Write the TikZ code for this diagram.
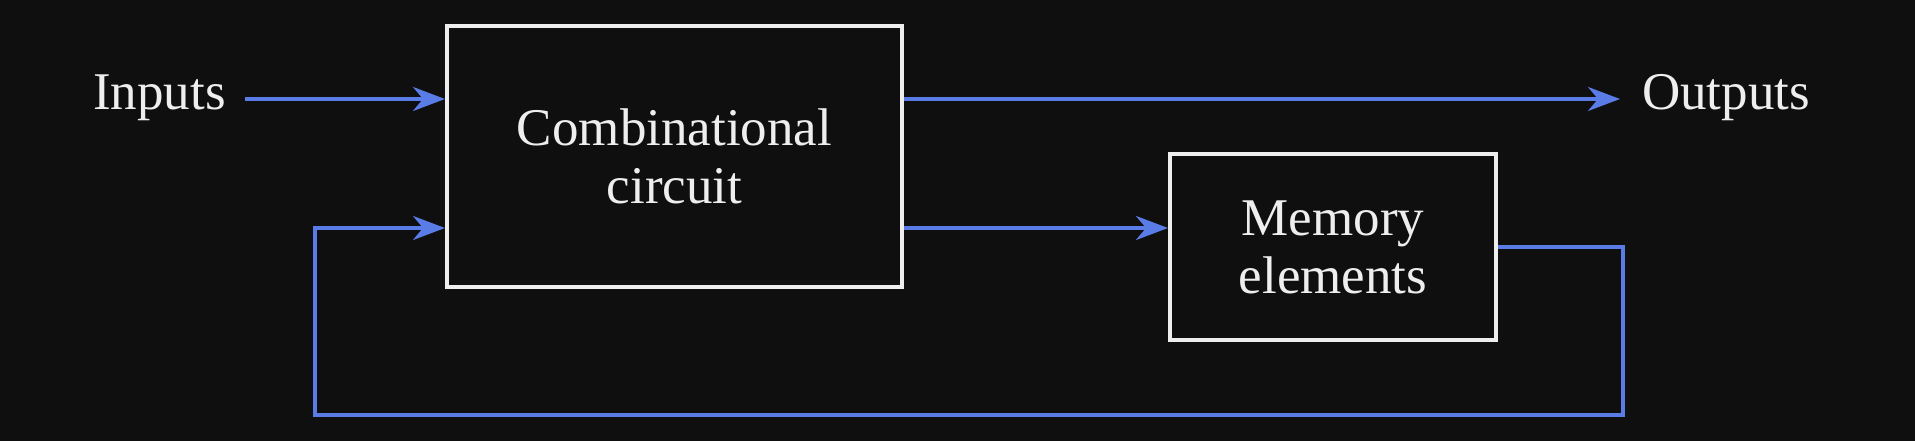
\documentclass[tikz,border=0pt]{standalone}
\usepackage{fontspec}
\setmainfont{Liberation Serif}
\usetikzlibrary{arrows.meta}
\definecolor{bg}{HTML}{0F0F0F}
\definecolor{wire}{HTML}{5A7CE6}
\definecolor{fg}{HTML}{EEEEEE}
\begin{document}
\begin{tikzpicture}[x=1pt,y=-1pt,
  blockbox/.style={draw=fg, line width=4pt, fill=bg, text=fg, align=center,
    font=\fontsize{53}{58}\selectfont, inner sep=0pt},
  lbl/.style={text=fg, font=\fontsize{53}{58}\selectfont, inner sep=0pt},
  wireline/.style={draw=wire, line width=3.6pt},
  arr/.style={wireline, -{Stealth[length=32pt,width=24pt,inset=10pt]}}]
\fill[bg] (0,0) rectangle (1915,441);
\useasboundingbox (0,0) rectangle (1915,441);
\node[blockbox, minimum width=455pt, minimum height=261pt] (comb) at (674.5,156.5) {Combinational\\circuit};
\node[blockbox, minimum width=326pt, minimum height=186pt] (mem) at (1333,247) {Memory\\elements};
\node[lbl, anchor=base west] (inp) at (93,110) {Inputs};
\node[lbl, anchor=base west] (outp) at (1642,110) {Outputs};
\coordinate (inL) at (245,99);
\coordinate (outR) at (1620,99);
\coordinate (lowY) at (0,228);
\coordinate (fbR) at (1623,247);
\coordinate (fbBR) at (1623,415);
\coordinate (fbBL) at (315,415);
\coordinate (fbTL) at (315,228);
\draw[arr] (inL) -- (inL -| comb.west);
\draw[arr] (outR -| comb.east) -- (outR);
\draw[arr] (lowY -| comb.east) -- (lowY -| mem.west);
\draw[arr] (fbR -| mem.east) -- (fbR) -- (fbBR) -- (fbBL) -- (fbTL) -- (fbTL -| comb.west);
\end{tikzpicture}
\end{document}
